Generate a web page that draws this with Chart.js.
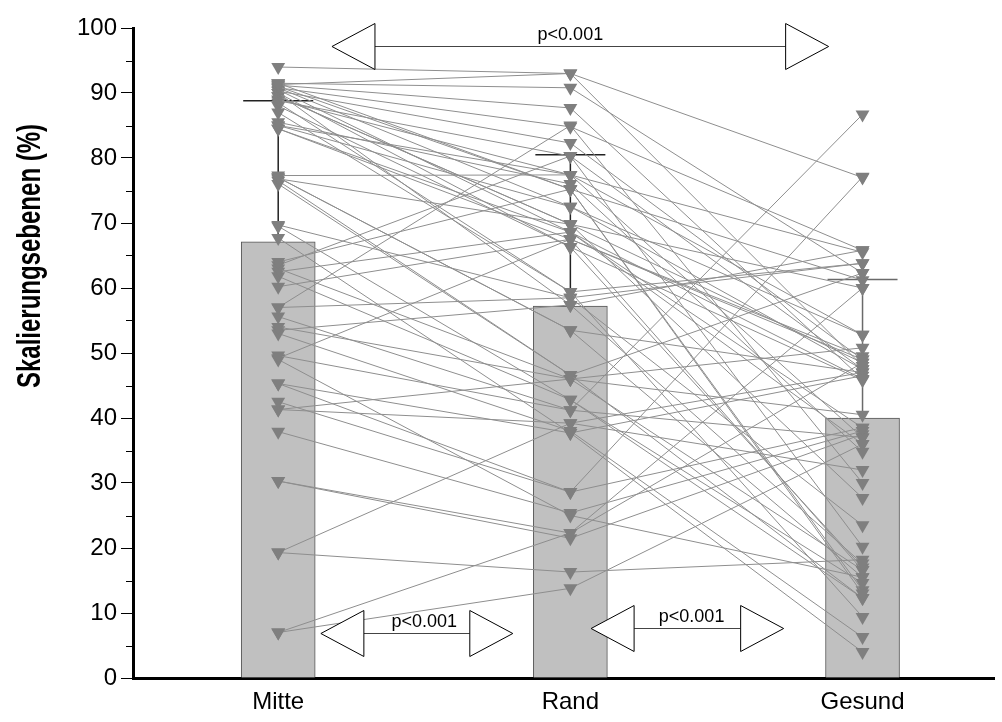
<!DOCTYPE html>
<html>
<head>
<meta charset="utf-8">
<script src="https://cdn.jsdelivr.net/npm/chart.js@4/dist/chart.umd.min.js"></script>
<style>
  html,body{margin:0;padding:0;background:#fff;}
  #wrap{width:1002px;height:722px;}
</style>
</head>
<body>
<div id="wrap"><canvas id="chart" width="1002" height="722"></canvas></div>
<script>
/* ---------- DATA ---------- */
const categories = ["Mitte", "Rand", "Gesund"];
const barMeans   = [67.1, 57.2, 40.0];
const barSdTop   = [88.8, 80.5, 61.3];
const yTitle     = "Skalierungsebenen (%)";

// one entry per patient, same index across the three arrays
const mitte  = [94, 91.5, 91.3, 91.2, 91, 90.8, 90.5, 90.3, 90, 89.5, 89, 88.8, 88, 87, 85.5, 85, 84.5,
                77.3, 77, 76.8, 76, 69.7, 67.7, 64, 63, 62.5, 61.8, 60.2, 57, 55.6, 54, 53, 49.6, 49,
                45.3, 42.5, 41.3, 37.9, 30.3, 19.3, 7, 7,
                19.3, 91.5, 90.8, 90, 89.5, 88.5, 85, 84.5, 77, 76.5, 69.5, 63.5, 57, 53.5, 49.2, 45.3, 41.3, 30.3];
const rand   = [93, 90.8, 93, 87.7, 75.2, 84.8, 68.6, 82.3, 57.4, 69.8, 77.4, 80.3, 66.3, 59.4, 76, 72.5, 67.5,
                77.4, 53.5, 69.8, 46.6, 58.5, 37.7, 75.2, 46, 68.6, 42.8, 67.5, 58.5, 41.2, 46, 38, 41.2, 25,
                37.7, 28.6, 39.2, 25.4, 21.5, 16.3, 22.3, 13.8,
                39.2, 75.2, 72.5, 66.3, 69.8, 59.4, 77.4, 68.6, 53.5, 46.6, 42.8, 80.3, 85, 57.4, 67.5, 28.6, 46, 22.3];
const gesund = [48, 62.3, 77, 46, 13, 65.8, 38.5, 49, 17.6, 60, 52.8, 20.2, 45.8, 9.4, 34.8, 47.5, 16.6,
                65.5, 47, 27.7, 12.3, 63.8, 4, 61.2, 50.8, 36, 14.6, 49.5, 23.5, 86.7, 40.5, 6.3, 37, 15.5,
                46.5, 77.1, 32, 38, 37.5, 18.2, 48.5, 36,
                47, 13.5, 52.8, 17, 48.5, 63.8, 37, 46, 15.5, 62.3, 12.3, 47.5, 30, 65.8, 49, 38.5, 16.6, 60];

const pLabels = ["p<0.001", "p<0.001", "p<0.001"];

/* ---------- STYLE ---------- */
const FONT = "'Liberation Sans', Arial, sans-serif";
const LINE_COLOR = "#8e8e8e";
const MARK_COLOR = "#7f7f7f";

// annotation arrows (x in category units, y in axis units)
const arrows = [
  {from:0.184, to:1.884, y:97.2, textX:1.0,  label:pLabels[0]},
  {from:0.146, to:0.803, y:6.9,  textX:0.5,  label:pLabels[1]},
  {from:1.071, to:1.730, y:7.7,  textX:1.415,label:pLabels[2]}
];

/* ---------- DATASETS ---------- */
const datasets = [{
  type:"bar",
  data:barMeans.map((v,i)=>({x:i,y:v})),
  backgroundColor:"#c0c0c0",
  borderColor:"#555",
  borderWidth:1,
  barThickness:74,
  order:10
}];

mitte.forEach((m,i)=>{
  datasets.push({
    type:"line",
    data:[{x:0,y:m},{x:1,y:rand[i]},{x:2,y:gesund[i]}],
    borderColor:LINE_COLOR,
    borderWidth:1,
    pointStyle:"triangle",
    rotation:180,
    pointRadius:8,
    pointBackgroundColor:MARK_COLOR,
    pointBorderColor:MARK_COLOR,
    pointBorderWidth:0,
    fill:false,
    tension:0,
    order:1
  });
});

/* ---------- PLUGINS ---------- */
const errorBars = {
  id:"errorBars",
  afterDatasetDraw(chart,args){
    if(args.index!==0) return;
    const {ctx, scales:{x,y}} = chart;
    ctx.save();
    barSdTop.forEach((top,i)=>{
      const px = x.getPixelForValue(i);
      const yb = y.getPixelForValue(barMeans[i]);
      const yt = y.getPixelForValue(top);
      ctx.strokeStyle = i===2 ? "#6a6a6a" : "#222";
      ctx.lineWidth = 1.5;
      ctx.beginPath();
      ctx.moveTo(px, yb); ctx.lineTo(px, yt);
      ctx.moveTo(px-35, yt); ctx.lineTo(px+35, yt);
      ctx.stroke();
    });
    ctx.restore();
  }
};

const axisExtras = {
  id:"axisExtras",
  afterDraw(chart){
    const {ctx, scales:{y}} = chart;
    ctx.save();
    // minor ticks
    ctx.strokeStyle="#000"; ctx.lineWidth=1;
    for(let v=5; v<100; v+=10){
      const py = Math.round(y.getPixelForValue(v))+0.5;
      ctx.beginPath();
      ctx.moveTo(y.right-7, py); ctx.lineTo(y.right, py);
      ctx.stroke();
    }
    // y title (a bit wide, like the original)
    ctx.translate(31, 256);
    ctx.scale(1.35, 1);
    ctx.rotate(-Math.PI/2);
    ctx.fillStyle="#000";
    ctx.font = "bold 24px "+FONT;
    ctx.textAlign="center"; ctx.textBaseline="middle";
    ctx.fillText(yTitle, 0, 0);
    ctx.restore();
  }
};

const pArrows = {
  id:"pArrows",
  afterDraw(chart){
    const {ctx, scales:{x,y}} = chart;
    const headLen = 43, headHalf = 23;
    ctx.save();
    arrows.forEach(a=>{
      const x1 = x.getPixelForValue(a.from);
      const x2 = x.getPixelForValue(a.to);
      const py = Math.round(y.getPixelForValue(a.y))+0.5;
      ctx.strokeStyle="#444"; ctx.lineWidth=1.2;
      ctx.beginPath();
      ctx.moveTo(x1+headLen, py); ctx.lineTo(x2-headLen, py);
      ctx.stroke();
      ctx.fillStyle="#fff"; ctx.strokeStyle="#000"; ctx.lineWidth=1;
      ctx.beginPath();
      ctx.moveTo(x1, py); ctx.lineTo(x1+headLen, py-headHalf); ctx.lineTo(x1+headLen, py+headHalf); ctx.closePath();
      ctx.fill(); ctx.stroke();
      ctx.beginPath();
      ctx.moveTo(x2, py); ctx.lineTo(x2-headLen, py-headHalf); ctx.lineTo(x2-headLen, py+headHalf); ctx.closePath();
      ctx.fill(); ctx.stroke();
      ctx.fillStyle="#000";
      ctx.font = "18px "+FONT;
      ctx.textAlign="center"; ctx.textBaseline="alphabetic";
      ctx.fillText(a.label, x.getPixelForValue(a.textX), py-7);
    });
    ctx.restore();
  }
};

/* ---------- CHART ---------- */
new Chart(document.getElementById("chart"),{
  type:"bar",
  data:{datasets},
  options:{
    responsive:false,
    animation:false,
    events:[],
    layout:{padding:{top:28,right:2,left:0,bottom:0}},
    plugins:{legend:{display:false},tooltip:{enabled:false}},
    scales:{
      x:{
        type:"linear",
        min:-0.497, max:2.45,
        offset:false,
        afterBuildTicks(scale){ scale.ticks = categories.map((c,i)=>({value:i})); },
        afterFit(scale){ scale.height = 44; },
        grid:{display:false, drawTicks:false},
        border:{display:true, color:"#000", width:3},
        ticks:{
          autoSkip:false, maxRotation:0, padding:10,
          color:"#000", font:{family:FONT, size:24},
          callback:(v)=>categories[Math.round(v)] ?? ""
        }
      },
      y:{
        min:0, max:100,
        afterFit(scale){ scale.width = 133; },
        grid:{display:true, drawOnChartArea:false, drawTicks:true, tickLength:12, color:"#000", lineWidth:1},
        border:{display:true, color:"#000", width:3},
        ticks:{stepSize:10, padding:4, color:"#000", font:{family:FONT, size:24}},
        title:{display:false}
      }
    }
  },
  plugins:[errorBars, axisExtras, pArrows]
});
</script>
</body>
</html>
